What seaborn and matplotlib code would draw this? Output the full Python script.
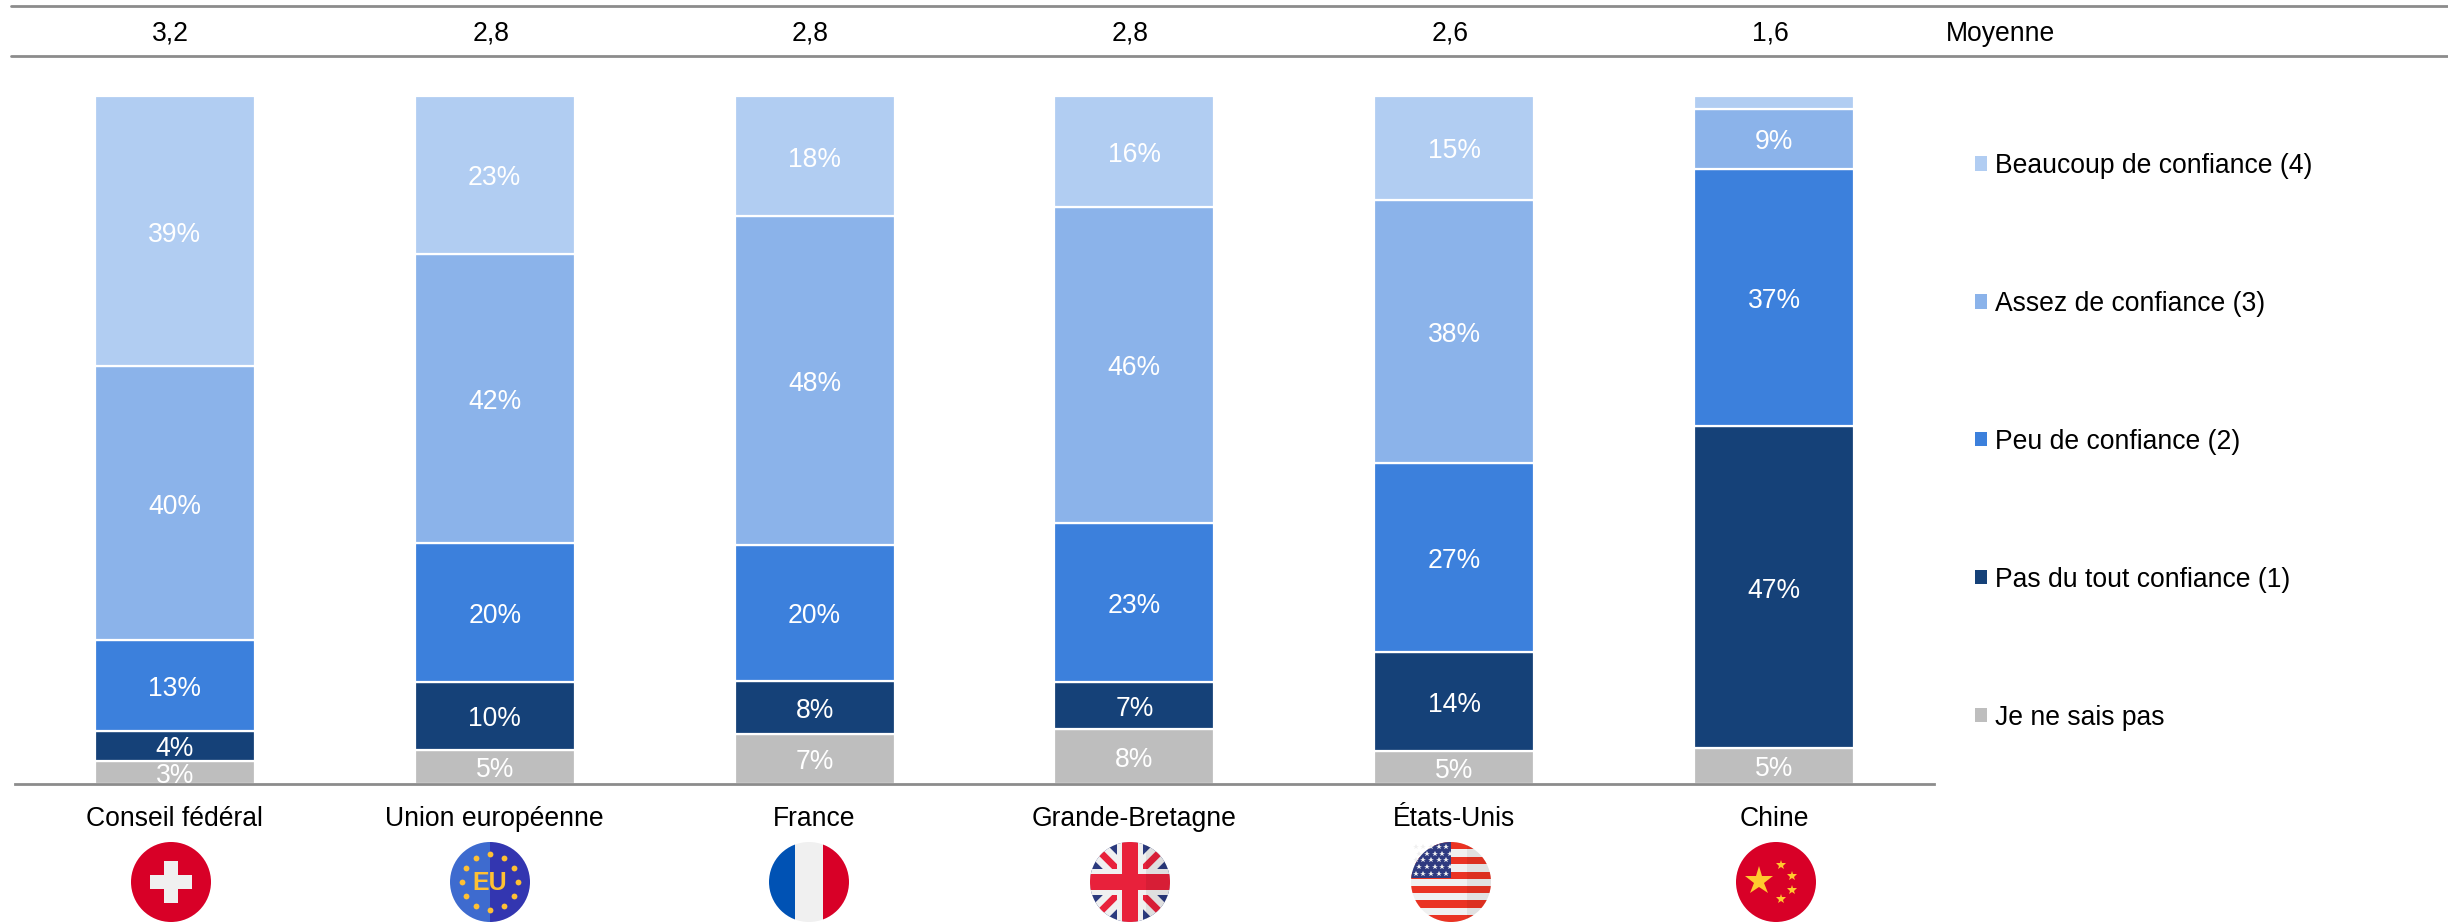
import numpy as np
import pandas as pd
import matplotlib
matplotlib.use("Agg")
import matplotlib.pyplot as plt
from matplotlib.lines import Line2D
from matplotlib.patches import Circle, Rectangle, Polygon
from matplotlib.transforms import blended_transform_factory, ScaledTranslation
import seaborn as sns

categories = ["Conseil fédéral", "Union européenne", "France", "Grande-Bretagne", "États-Unis", "Chine"]
moyennes = ["3,2", "2,8", "2,8", "2,8", "2,6", "1,6"]
je_ne_sais_pas = [3.4, 5.0, 7.3, 8.0, 4.8, 5.2]
pas_du_tout = [4.3, 9.8, 7.7, 6.8, 14.4, 46.8]
peu = [13.2, 20.2, 19.8, 23.2, 27.4, 37.4]
assez = [39.8, 42.0, 47.7, 45.9, 38.3, 8.7]
beaucoup = [39.3, 23.0, 17.5, 16.1, 15.1, 1.9]
series_names = ["Je ne sais pas", "Pas du tout confiance (1)", "Peu de confiance (2)",
                "Assez de confiance (3)", "Beaucoup de confiance (4)"]
colors = ["#BEBEBE", "#154178", "#3C80DC", "#8BB3EA", "#B1CDF2"]

W, H = 2448, 923
FS = 19.1
sns.set_theme(style="white")
plt.rcParams["font.family"] = ["Liberation Sans", "DejaVu Sans"]

fig = plt.figure(figsize=(W / 100, H / 100), dpi=100)
ax = fig.add_axes([15 / W, 1 - 784 / H, (1934 - 15) / W, (784 - 96) / H])

df = pd.DataFrame(dict(zip(series_names, [je_ne_sais_pas, pas_du_tout, peu, assez, beaucoup])), index=categories)
bottoms = df.cumsum(axis=1).shift(1, axis=1).fillna(0)
for name, col in zip(series_names, colors):
    long = pd.DataFrame({"cat": categories, "val": df[name].values, "bot": bottoms[name].values})
    sns.barplot(data=long, x="cat", y="val", bottom=long["bot"].values, color=col, width=0.5,
                saturation=1, edgecolor="white", linewidth=1.6, ax=ax, label=name, legend=False,
                errorbar=None)

for cont, name in zip(ax.containers, series_names):
    labels = [f"{v:.0f}%" if v >= 3 else "" for v in df[name].values]
    texts = ax.bar_label(cont, labels=labels, label_type="center", color="white", fontsize=FS)
    for t in texts:
        t.xyann = (0, -2.4)

ax.set_xlim(-0.5, 5.5)
ax.set_ylim(0, 100)
ax.set_xlabel("")
ax.set_ylabel("")
ax.set_yticks([])
ax.tick_params(axis="x", length=0, pad=15.5, labelsize=FS, labelcolor="black")
for s in ["top", "left", "right"]:
    ax.spines[s].set_visible(False)
ax.spines["bottom"].set_color("#8C8C8C")
ax.spines["bottom"].set_linewidth(2.0)

# Moyenne row
for y in (5.5, 56):
    fig.add_artist(Line2D([11 / W, 1], [1 - y / H, 1 - y / H], color="#8C8C8C", lw=2.0))
tr = blended_transform_factory(ax.transData, fig.transFigure) + ScaledTranslation(-4 / 100, 0, fig.dpi_scale_trans)
for i, m in enumerate(moyennes):
    ax.text(i, 1 - 34 / H, m, transform=tr, ha="center", va="center", fontsize=FS, color="black", clip_on=False)
fig.text(1946 / W, 1 - 34 / H, "Moyenne", ha="left", va="center", fontsize=FS, color="black")

# Legend
handles = [Rectangle((0, 0), 1, 1, facecolor=c, edgecolor="none") for c in colors[::-1]]
leg = fig.legend(handles, series_names[::-1], loc="upper left", bbox_to_anchor=(1975 / W, 1 - 153 / H),
                 bbox_transform=fig.transFigure, frameon=False, fontsize=FS, labelspacing=4.22,
                 handlelength=0.44, handleheight=0.44, handletextpad=0.3, borderpad=0, borderaxespad=0,
                 labelcolor="black")

# Flags
flag_x = [171, 490, 809, 1130, 1451, 1776]


def flag_ax(cx, cy=882, d=80):
    a = fig.add_axes([(cx - d / 2) / W, 1 - (cy + d / 2) / H, d / W, d / H])
    a.set_xlim(-1, 1)
    a.set_ylim(-1, 1)
    a.axis("off")
    clip = Circle((0, 0), 1, transform=a.transData)
    return a, clip


def rect(a, clip, x0, y0, w, h, c, z=1, alpha=None):
    p = Rectangle((x0, y0), w, h, facecolor=c, edgecolor="none", zorder=z, alpha=alpha)
    a.add_patch(p)
    p.set_clip_path(clip)


def band(a, clip, p0, p1, t, c, z):
    p0, p1 = np.array(p0, float), np.array(p1, float)
    d = p1 - p0
    n = np.array([-d[1], d[0]]) / np.hypot(*d) * t / 2
    p = Polygon([p0 + n, p1 + n, p1 - n, p0 - n], closed=True, facecolor=c, edgecolor="none", zorder=z)
    a.add_patch(p)
    p.set_clip_path(clip)


def star(a, x, y, size, c="#FFC92E", z=5):
    a.plot([x], [y], marker="*", ms=size, color=c, mew=0, ls="none", zorder=z)


# Switzerland
a, clip = flag_ax(flag_x[0])
rect(a, clip, -1, -1, 2, 2, "#D80027")
rect(a, clip, -0.52, -0.18, 1.04, 0.36, "#F0F0F0", 2)
rect(a, clip, -0.18, -0.52, 0.36, 1.04, "#F0F0F0", 2)

# EU
a, clip = flag_ax(flag_x[1])
rect(a, clip, -1, -1, 1, 2, "#3E6BCF")
rect(a, clip, 0, -1, 1, 2, "#3336B0")
ang = np.deg2rad(np.arange(0, 360, 30))
a.plot(0.7 * np.cos(ang), 0.7 * np.sin(ang), "o", ms=4.2, color="#FFC033", mew=0, ls="none", zorder=4)
a.text(0, -0.02, "EU", ha="center", va="center", fontsize=18, fontweight="bold", color="#FFC033", zorder=5)

# France
a, clip = flag_ax(flag_x[2])
rect(a, clip, -1, -1, 0.66, 2, "#0052B4")
rect(a, clip, -0.34, -1, 0.68, 2, "#F0F0F0")
rect(a, clip, 0.34, -1, 0.66, 2, "#D80027")

# Great Britain
a, clip = flag_ax(flag_x[3])
rect(a, clip, -1, -1, 2, 2, "#2B3A7E")
band(a, clip, (-1, -1), (1, 1), 0.5, "#F0F0F0", 2)
band(a, clip, (-1, 1), (1, -1), 0.5, "#F0F0F0", 2)
band(a, clip, (-1, -1), (1, 1), 0.17, "#E8213B", 3)
band(a, clip, (-1, 1), (1, -1), 0.17, "#E8213B", 3)
rect(a, clip, -1, -0.33, 2, 0.66, "#F0F0F0", 4)
rect(a, clip, -0.33, -1, 0.66, 2, "#F0F0F0", 4)
rect(a, clip, -1, -0.21, 2, 0.42, "#E8213B", 5)
rect(a, clip, -0.21, -1, 0.42, 2, "#E8213B", 5)
rect(a, clip, 0.4, -1, 0.6, 2, "black", 6, alpha=0.07)

# United States
a, clip = flag_ax(flag_x[4])
rect(a, clip, -1, -1, 2, 2, "#F0F0F0")
for y0 in (0.82, 0.45, 0.08, -0.28, -0.64, -1.0):
    rect(a, clip, -1, y0, 2, 0.18, "#EA3323", 2)
rect(a, clip, -1, 0.1, 1, 0.9, "#2E3A80", 3)
for row, yy in enumerate(np.arange(0.2, 1.0, 0.17)):
    for xx in np.arange(-0.88 + 0.09 * (row % 2), 0, 0.19):
        star(a, xx, yy, 4.2, "#F0F0F0")
rect(a, clip, 0.4, -1, 0.6, 2, "black", 6, alpha=0.06)

# China
a, clip = flag_ax(flag_x[5])
rect(a, clip, -1, -1, 2, 2, "#D80027")
star(a, -0.42, 0.03, 21)
for x, y in [(0.12, 0.42), (0.4, 0.16), (0.41, -0.2), (0.12, -0.42)]:
    star(a, x, y, 7.5)

fig.savefig("out.png", dpi=100, facecolor="white")
